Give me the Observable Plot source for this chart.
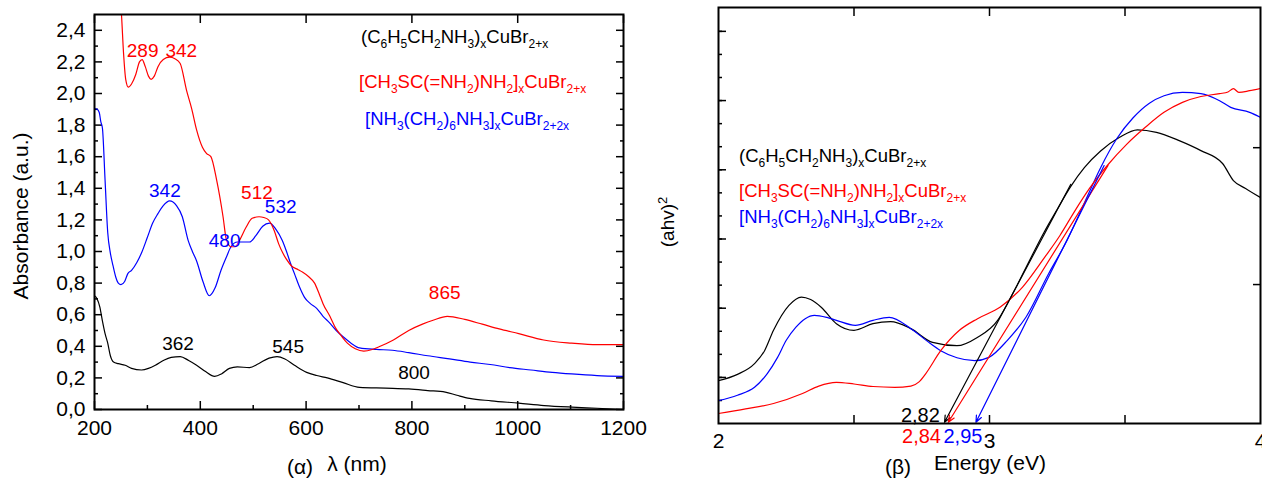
<!DOCTYPE html>
<html><head><meta charset="utf-8">
<script src="https://cdn.jsdelivr.net/npm/d3@7"></script>
<script src="https://cdn.jsdelivr.net/npm/@observablehq/plot@0.6"></script>
<style>
html,body{margin:0;padding:0;background:#fff;overflow:hidden;}
#wrap{position:relative;width:1262px;height:479px;font-family:"Liberation Sans",Arial,sans-serif;}
#left{position:absolute;left:0;top:0;width:640px;height:479px;}
#right{position:absolute;left:640px;top:0;width:622px;height:479px;}
#overlay{position:absolute;left:0;top:0;pointer-events:none;overflow:visible;}
#left svg,#right svg{overflow:visible;}
</style></head><body>
<div id="wrap"><div id="left"></div><div id="right"></div><svg id="overlay" width="1262" height="479"></svg></div>
<script>
// ---------- Panel (α): absorbance spectra ----------
const lamBlack = [200,205,210,215,220,225,230,236,245,258,270,289,302,315,330,345,362,378,393,410,427,440,455,470,493,510,530,545,560,578,601,620,640,670,701,750,794,830,863,885,909,950,1002,1050,1102,1150,1200];
const absBlack = [0.72,0.70,0.65,0.56,0.48,0.42,0.34,0.30,0.29,0.28,0.26,0.25,0.26,0.28,0.31,0.33,0.335,0.31,0.28,0.24,0.21,0.225,0.26,0.27,0.265,0.29,0.325,0.335,0.32,0.28,0.235,0.215,0.20,0.17,0.14,0.135,0.13,0.12,0.11,0.09,0.07,0.055,0.04,0.025,0.015,0.008,0.0];

const lamRed = [245,251,255,259,264,270,278,285,290,296,302,307,313,320,330,342,352,362,374,384,393,404,412,420,431,443,449,458,466,474,486,498,511,520,529,540,548,556,563,572,585,593,605,616,625,632,645,655,668,678,693,709,725,740,765,794,820,840,867,900,933,965,1002,1049,1102,1150,1200];
const absRed = [2.75,2.5,2.25,2.09,2.04,2.06,2.12,2.20,2.215,2.17,2.11,2.09,2.11,2.17,2.215,2.23,2.22,2.19,2.02,1.90,1.77,1.66,1.62,1.60,1.45,1.22,1.08,1.03,1.03,1.07,1.15,1.21,1.22,1.215,1.20,1.13,1.05,0.99,0.95,0.91,0.885,0.87,0.84,0.80,0.73,0.67,0.59,0.52,0.46,0.42,0.385,0.37,0.38,0.40,0.44,0.50,0.54,0.565,0.59,0.57,0.54,0.51,0.48,0.44,0.42,0.41,0.41];

const lamBlue = [200,205,209,212,215,220,225,230,235,240,245,250,257,263,270,280,290,300,310,320,330,342,355,366,377,385,393,405,417,428,439,450,458,470,480,493,505,518,531,543,555,563,570,578,587,597,608,620,632,644,657,670,685,701,733,763,794,830,871,910,948,985,1025,1065,1102,1150,1200];
const absBlue = [1.905,1.90,1.88,1.82,1.78,1.45,1.12,0.99,0.91,0.84,0.80,0.79,0.81,0.86,0.88,0.93,1.00,1.09,1.18,1.24,1.29,1.32,1.29,1.22,1.07,1.00,0.94,0.81,0.72,0.77,0.88,0.97,1.03,1.06,1.06,1.06,1.10,1.16,1.18,1.14,1.07,1.00,0.93,0.86,0.78,0.71,0.67,0.64,0.59,0.55,0.50,0.46,0.42,0.39,0.38,0.375,0.36,0.34,0.32,0.30,0.285,0.265,0.25,0.235,0.225,0.215,0.21];

const peakLabelsA = ["289","342","342","512","532","480","865","362","545","800"];
const peakLamA    = [291, 364, 333, 507, 552, 446, 862, 358, 566, 804];
const peakAbsA    = [2.27, 2.27, 1.386, 1.37, 1.285, 1.066, 0.736, 0.418, 0.399, 0.23];
const peakColorA  = ["red","red","blue","red","blue","blue","red","black","black","black"];

const xTickLabelsA = [200, 400, 600, 800, 1000, 1200];
const xMinorA = [300, 500, 700, 900, 1100];
const yTickLabelsA = [0, 0.2, 0.4, 0.6, 0.8, 1.0, 1.2, 1.4, 1.6, 1.8, 2.0, 2.2, 2.4];
const yMinorA = [0.1, 0.3, 0.5, 0.7, 0.9, 1.1, 1.3, 1.5, 1.7, 1.9, 2.1, 2.3];

// ---------- Panel (β): Tauc plot (arbitrary units) ----------
const eBlack = [2.0,2.07,2.133,2.17,2.203,2.26,2.306,2.34,2.38,2.435,2.50,2.57,2.635,2.71,2.79,2.88,2.955,3.03,3.066,3.10,3.15,3.20,3.25,3.30,3.35,3.41,3.48,3.546,3.616,3.70,3.78,3.86,3.90,3.945,4.0];
const tBlack = [0.103,0.118,0.144,0.175,0.224,0.284,0.304,0.298,0.279,0.24,0.224,0.24,0.245,0.228,0.195,0.187,0.207,0.248,0.288,0.33,0.395,0.458,0.515,0.57,0.615,0.655,0.688,0.706,0.70,0.68,0.656,0.625,0.584,0.565,0.543];

const eRed = [2.0,2.1,2.203,2.31,2.37,2.435,2.50,2.57,2.65,2.71,2.74,2.765,2.82,2.889,2.956,3.04,3.122,3.204,3.26,3.314,3.369,3.437,3.506,3.575,3.644,3.712,3.78,3.849,3.88,3.90,3.92,3.96,4.0];
const tRed = [0.024,0.035,0.048,0.072,0.09,0.099,0.095,0.089,0.087,0.09,0.10,0.12,0.175,0.224,0.252,0.28,0.328,0.40,0.452,0.51,0.565,0.622,0.671,0.712,0.748,0.772,0.786,0.793,0.797,0.805,0.796,0.80,0.805];

const eBlue = [2.0,2.07,2.133,2.18,2.218,2.25,2.285,2.32,2.354,2.40,2.435,2.505,2.57,2.63,2.71,2.77,2.82,2.88,2.945,2.998,3.066,3.135,3.218,3.286,3.35,3.41,3.47,3.53,3.59,3.644,3.712,3.78,3.849,3.89,3.96,4.0];
const tBlue = [0.055,0.068,0.087,0.12,0.159,0.20,0.231,0.252,0.26,0.255,0.248,0.236,0.248,0.255,0.228,0.198,0.175,0.158,0.151,0.159,0.20,0.256,0.36,0.44,0.53,0.615,0.685,0.735,0.77,0.788,0.796,0.793,0.776,0.76,0.748,0.736];

// tangent (extrapolation) arrows: upper end -> intercept on the energy axis
const fitTopE = [3.30, 3.437, 3.423];
const fitTopT = [0.575, 0.62, 0.62];
const fitGapE = [2.834, 2.848, 2.950];
const fitGapT = [0.003, 0.003, 0.003];
const fitColor = ["black", "red", "blue"];

const gapLabels = ["2,82", "2,84", "2,95"];
const gapLabelE = [2.745, 2.749, 2.902];
const gapLabelT = [0.02, -0.0325, -0.0325];

const xTickLabelsB = [2, 3, 4];
const xTicksB = [2.5, 3, 3.5];

// ---------- legend texts (main / subscript alternating) ----------
const legendBlack = ["(C","6","H","5","CH","2","NH","3",")","x","CuBr","2+x"];
const legendRed   = ["[CH","3","SC(=NH","2",")NH","2","]","x","CuBr","2+x"];
const legendBlue  = ["[NH","3","(CH","2",")","6","NH","3","]","x","CuBr","2+2x"];

const COLORS = {black: "#000000", red: "#ff0000", blue: "#0000ff"};
const FONT = '"Liberation Sans", Arial, Helvetica, sans-serif';
const rows = (xs, ys) => xs.map((x, i) => ({x, y: ys[i]}));

// ---------- Plot α ----------
const annA = peakLabelsA.map((t, i) => ({t, x: peakLamA[i], y: peakAbsA[i], c: COLORS[peakColorA[i]]}));
const plotA = Plot.plot({
  width: 640, height: 479,
  marginLeft: 94, marginRight: 17, marginTop: 14, marginBottom: 70,
  style: {fontFamily: FONT, fontSize: "21px", background: "transparent", color: "#000", overflow: "visible"},
  x: {domain: [200, 1200]},
  y: {domain: [0, 2.5]},
  marks: [
    Plot.axisX({ticks: xTickLabelsA, tickSize: 0, tickPadding: 11, tickFormat: d => String(d), label: null}),
    Plot.axisX({ticks: xTickLabelsA, tickSize: -8, strokeWidth: 1.5, fill: "none", label: null}),
    Plot.axisX({ticks: xMinorA, tickSize: -4, strokeWidth: 1.5, fill: "none", label: null}),
    Plot.axisX({anchor: "top", ticks: xTickLabelsA, tickSize: -8, strokeWidth: 1.5, fill: "none", label: null}),
    Plot.axisY({ticks: yTickLabelsA, tickSize: 0, tickPadding: 9, tickFormat: d => d.toFixed(1).replace(".", ","), label: null}),
    Plot.axisY({ticks: yTickLabelsA, tickSize: -8, strokeWidth: 1.5, fill: "none", label: null}),
    Plot.axisY({ticks: yMinorA, tickSize: -4, strokeWidth: 1.5, fill: "none", label: null}),
    Plot.axisY({anchor: "right", ticks: yTickLabelsA, tickSize: -8, strokeWidth: 1.5, fill: "none", label: null}),
    Plot.axisY({anchor: "right", ticks: yMinorA, tickSize: -4, strokeWidth: 1.5, fill: "none", label: null}),
    Plot.line(rows(lamBlack, absBlack), {x: "x", y: "y", stroke: COLORS.black, strokeWidth: 1.2, curve: "monotone-x", clip: true}),
    Plot.line(rows(lamBlue, absBlue), {x: "x", y: "y", stroke: COLORS.blue, strokeWidth: 1.2, curve: "monotone-x", clip: true}),
    Plot.line(rows(lamRed, absRed), {x: "x", y: "y", stroke: COLORS.red, strokeWidth: 1.2, curve: "monotone-x", clip: true}),
    Plot.text(annA, {x: "x", y: "y", text: "t", fill: d => d.c, fontSize: 19}),
    Plot.frame({strokeWidth: 2})
  ]
});
document.getElementById("left").append(plotA);

// ---------- Plot β ----------
const arrowsB = fitTopE.map((e, i) => ({x1: e, y1: fitTopT[i], x2: fitGapE[i], y2: fitGapT[i], c: COLORS[fitColor[i]]}));
const gapB = gapLabels.map((t, i) => ({t, x: gapLabelE[i], y: gapLabelT[i], c: COLORS[fitColor[i]]}));
const yMinorB = d3.range(0, 17).map(k => 0.0553 + 0.05546 * k);
const yMajorB = yMinorB.filter((d, k) => k % 3 === 1);
const yRightB = [0.334, 0.663];
const plotB = Plot.plot({
  width: 622, height: 479,
  marginLeft: 78, marginRight: 2, marginTop: 7, marginBottom: 56,
  style: {fontFamily: FONT, fontSize: "21px", background: "transparent", color: "#000", overflow: "visible"},
  x: {domain: [2, 4]},
  y: {domain: [0, 1]},
  marks: [
    Plot.axisX({ticks: xTickLabelsB, tickSize: 0, tickPadding: 10, tickFormat: d => String(d), label: null}),
    Plot.axisX({ticks: xTicksB, tickSize: -8, strokeWidth: 1.5, fill: "none", label: null}),
    Plot.axisX({anchor: "top", ticks: xTicksB, tickSize: -8, strokeWidth: 1.5, fill: "none", label: null}),
    Plot.axisY({ticks: yMinorB, tickSize: -4, strokeWidth: 1.5, fill: "none", label: null}),
    Plot.axisY({ticks: yMajorB, tickSize: -8, strokeWidth: 1.5, fill: "none", label: null}),
    Plot.axisY({anchor: "right", ticks: yRightB, tickSize: -8, strokeWidth: 1.5, fill: "none", label: null}),
    Plot.line(rows(eBlack, tBlack), {x: "x", y: "y", stroke: COLORS.black, strokeWidth: 1.2, curve: "monotone-x", clip: true}),
    Plot.line(rows(eBlue, tBlue), {x: "x", y: "y", stroke: COLORS.blue, strokeWidth: 1.2, curve: "monotone-x", clip: true}),
    Plot.line(rows(eRed, tRed), {x: "x", y: "y", stroke: COLORS.red, strokeWidth: 1.2, curve: "monotone-x", clip: true}),
    Plot.arrow(arrowsB, {x1: "x1", y1: "y1", x2: "x2", y2: "y2", stroke: d => d.c, strokeWidth: 1.2, headLength: 9, headAngle: 45}),
    Plot.text(gapB, {x: "x", y: "y", text: "t", fill: d => d.c, fontSize: 20}),
    Plot.frame({strokeWidth: 2})
  ]
});
document.getElementById("right").append(plotB);

// ---------- titles and legends ----------
const ov = d3.select("#overlay").style("font-family", FONT);
function label(x, y, size, rotate) {
  return ov.append("text")
    .attr("transform", `translate(${x},${y})` + (rotate ? " rotate(-90)" : ""))
    .attr("text-anchor", "middle").attr("dy", "0.35em")
    .style("font-size", size + "px").attr("fill", "#000");
}
label(21, 216, 21, true).text("Absorbance (a.u.)");
label(357, 464, 21, false).text("λ (nm)");
label(300, 467, 21, false).text("(α)");
label(898, 467, 21, false).text("(β)");
label(990, 463, 21, false).text("Energy (eV)");
const ahv = label(667, 222, 19, true);
ahv.append("tspan").text("(ahv)");
ahv.append("tspan").attr("dy", "-0.5em").style("font-size", "13px").text("2");

function legendLine(parts, x, y, color) {
  const t = ov.append("text").attr("x", x).attr("y", y).attr("fill", color).style("font-size", "18.5px");
  parts.forEach((p, i) => {
    const sub = i % 2 === 1;
    t.append("tspan").attr("dy", i === 0 ? 0 : (sub ? 5 : -5)).style("font-size", sub ? "12px" : "18.5px").text(p);
  });
}
legendLine(legendBlack, 361, 43, COLORS.black);
legendLine(legendRed, 359, 88, COLORS.red);
legendLine(legendBlue, 365, 125, COLORS.blue);
legendLine(legendBlack, 739, 162, COLORS.black);
legendLine(legendRed, 739, 197, COLORS.red);
legendLine(legendBlue, 739, 223, COLORS.blue);
</script>
</body></html>
